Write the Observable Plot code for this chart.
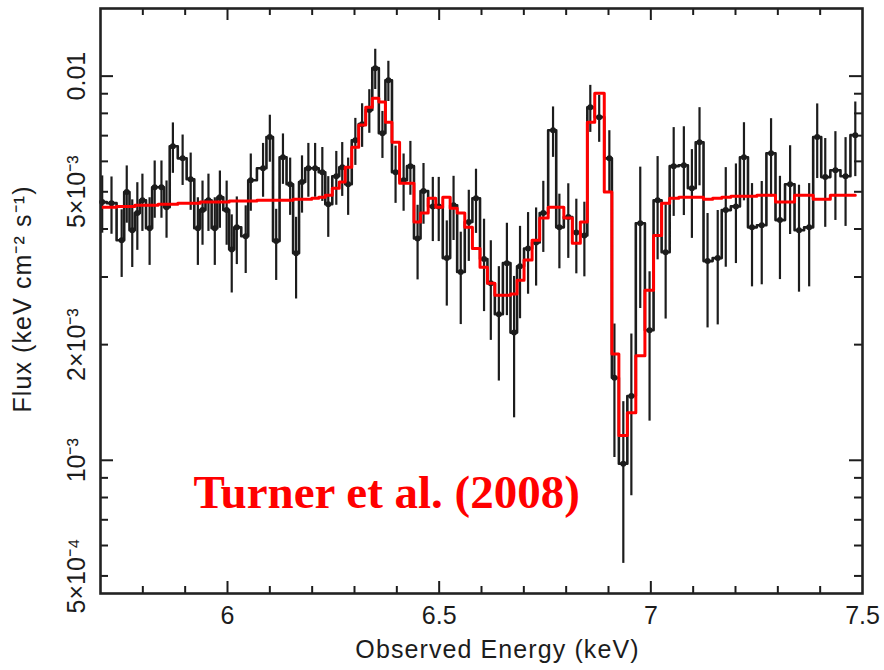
<!DOCTYPE html>
<html><head><meta charset="utf-8">
<script src="https://cdn.jsdelivr.net/npm/d3@7"></script>
<script src="https://cdn.jsdelivr.net/npm/@observablehq/plot@0.6"></script>
<style>
body{margin:0;background:#fff;}
#chart{position:relative;width:884px;height:670px;}
</style></head><body><div id="chart"></div>
<script>
// Observed energy of each spectral bin (keV)
const energy = [5.704,5.726,5.750,5.762,5.775,5.787,5.799,5.816,5.828,5.844,5.856,5.871,5.894,5.913,5.930,5.941,5.955,5.970,5.982,5.998,
6.010,6.022,6.043,6.055,6.084,6.100,6.115,6.131,6.148,6.162,6.176,6.191,6.207,6.224,6.238,6.257,6.271,6.285,6.302,6.318,
6.335,6.349,6.366,6.380,6.397,6.416,6.432,6.449,6.463,6.485,6.499,6.518,6.534,6.551,6.570,6.587,6.606,6.622,6.641,6.660,
6.677,6.691,6.710,6.729,6.746,6.769,6.784,6.805,6.824,6.843,6.857,6.878,6.902,6.914,6.935,6.954,6.975,6.997,7.016,7.035,
7.054,7.078,7.097,7.115,7.134,7.158,7.177,7.201,7.220,7.239,7.262,7.284,7.305,7.329,7.350,7.374,7.393,7.412,7.436,7.460,7.483];
// Observed flux (units of 1e-3 keV cm^-2 s^-1)
const flux = [4.70,4.67,3.74,4.99,3.97,4.40,4.75,4.02,5.14,5.14,4.56,6.57,6.11,5.39,4.02,4.48,4.75,4.02,4.84,4.48,
3.54,4.04,3.83,5.36,5.76,6.94,3.72,6.15,5.23,3.46,5.30,5.76,5.76,5.62,4.64,5.49,5.79,5.23,6.81,7.50,
8.16,10.49,7.10,9.76,5.62,5.36,5.83,3.78,5.02,4.58,4.58,3.36,4.61,3.09,4.17,4.81,3.34,2.89,2.40,3.26,
2.15,3.20,3.56,3.69,4.40,7.23,4.04,4.30,3.92,3.85,8.30,7.82,6.11,1.64,0.98,1.47,4.14,2.18,4.75,3.48,
5.83,5.86,5.11,6.73,3.30,3.36,4.48,4.58,6.15,4.04,4.09,6.30,4.22,5.23,3.97,4.04,6.94,5.46,5.69,5.49,7.02];
// Fractional 1-sigma error of each flux point
const fluxErr = [.17,.17,.2,.17,.2,.2,.17,.2,.17,.17,.17,.15,.15,.17,.2,.19,.17,.2,.17,.19,
.23,.2,.2,.17,.16,.14,.21,.15,.17,.24,.17,.16,.16,.16,.18,.16,.16,.17,.14,.13,
.13,.12,.14,.12,.17,.17,.16,.22,.18,.19,.19,.25,.19,.27,.21,.19,.27,.29,.33,.27,
.4,.27,.24,.23,.21,.15,.22,.22,.22,.22,.14,.14,.18,.38,.45,.45,.4,.42,.3,.33,
.26,.26,.26,.23,.33,.33,.29,.29,.23,.3,.3,.23,.3,.26,.31,.3,.22,.26,.26,.26,.22];
// Folded best-fit model in each bin (same units)
const model = [4.56,4.56,4.58,4.58,4.58,4.61,4.61,4.61,4.61,4.64,4.64,4.64,4.67,4.67,4.67,4.70,4.70,4.70,4.70,4.70,
4.73,4.73,4.73,4.73,4.75,4.75,4.75,4.75,4.75,4.78,4.78,4.78,4.81,4.84,4.90,5.11,5.30,5.79,6.53,7.46,
8.30,8.76,8.56,7.59,6.73,5.26,5.26,4.17,4.40,4.81,4.56,4.84,4.53,4.40,4.04,3.56,3.18,2.89,2.69,2.69,
2.71,2.94,3.32,3.74,4.27,4.56,4.56,4.27,3.67,4.17,7.59,9.03,4.99,1.89,1.16,1.33,1.87,2.77,3.85,4.67,
4.81,4.84,4.84,4.84,4.78,4.81,4.84,4.87,4.87,4.87,4.90,4.90,4.70,4.70,4.90,4.90,4.78,4.78,4.90,4.90,4.90];

const xTickValues = [6, 6.5, 7, 7.5];
const xTickLabels = ["6", "6.5", "7", "7.5"];
const yTickValues = [0.5, 1, 2, 5, 10];
const yTickLabels = ["5×10⁻⁴", "10⁻³", "2×10⁻³", "5×10⁻³", "0.01"];
const xMinorTicks = [5.8,5.9,6.1,6.2,6.3,6.4,6.6,6.7,6.8,6.9,7.1,7.2,7.3,7.4];
const xMajorTicks = [6, 6.5, 7];
const yMinorTicks = [0.5,0.6,0.7,0.8,0.9,2,3,4,5,6,7,8,9];
const yMajorTicks = [1, 10];

const rows = energy.map((e, i) => ({
  e, f: flux[i], lo: flux[i] * (1 - fluxErr[i]), hi: flux[i] * (1 + fluxErr[i]), m: model[i]
}));
const xLab = new Map(xTickValues.map((v, i) => [v, xTickLabels[i]]));
const yLab = new Map(yTickValues.map((v, i) => [v, yTickLabels[i]]));

const W = 884, H = 670, mL = 100, mR = 22, mT = 8, mB = 77;
const iW = W - mL - mR, iH = H - mT - mB;
const ink = "#1c1c1c";

const chart = Plot.plot({
  width: W, height: H,
  marginLeft: mL, marginRight: mR, marginTop: mT, marginBottom: mB,
  style: {fontFamily: "Liberation Sans, Arial, sans-serif", background: "#fff", color: ink},
  x: {domain: [5.7, 7.5], axis: null},
  y: {type: "log", domain: [0.45, 15.0], axis: null},
  marks: [
    // inward tick marks on all four sides
    Plot.ruleX(xMinorTicks, {x: d => d, insetTop: iH - 7, stroke: ink, strokeWidth: 2}),
    Plot.ruleX(xMinorTicks, {x: d => d, insetBottom: iH - 7, stroke: ink, strokeWidth: 2}),
    Plot.ruleX(xMajorTicks, {x: d => d, insetTop: iH - 12, stroke: ink, strokeWidth: 2}),
    Plot.ruleX(xMajorTicks, {x: d => d, insetBottom: iH - 12, stroke: ink, strokeWidth: 2}),
    Plot.ruleY(yMinorTicks, {y: d => d, insetRight: iW - 8, stroke: ink, strokeWidth: 2}),
    Plot.ruleY(yMinorTicks, {y: d => d, insetLeft: iW - 8, stroke: ink, strokeWidth: 2}),
    Plot.ruleY(yMajorTicks, {y: d => d, insetRight: iW - 13, stroke: ink, strokeWidth: 2}),
    Plot.ruleY(yMajorTicks, {y: d => d, insetLeft: iW - 13, stroke: ink, strokeWidth: 2}),
    // data: error bars, histogram steps, points
    Plot.ruleX(rows, {x: "e", y1: "lo", y2: "hi", stroke: ink, strokeWidth: 2.2}),
    Plot.line(rows, {x: "e", y: "f", curve: "step", stroke: ink, strokeWidth: 2.6}),
    Plot.dot(rows, {x: "e", y: "f", r: 3, fill: ink}),
    // model
    Plot.line(rows, {x: "e", y: "m", curve: "step", stroke: "#ff0000", strokeWidth: 3}),
    Plot.frame({stroke: "#222", strokeWidth: 2.6}),
    // axes text
    Plot.axisX(xTickValues, {tickSize: 0, tickPadding: 13, fontSize: 25, tickFormat: d => xLab.get(d), label: null}),
    Plot.axisY(yTickValues, {tickSize: 0, tickPadding: 16, tickRotate: -90, fontSize: 25, tickFormat: d => yLab.get(d), label: null}),
    Plot.text(["Observed Energy (keV)"], {frameAnchor: "bottom", textAnchor: "middle", lineAnchor: "middle", dx: 16, dy: 56, fontSize: 25, fill: ink}),
    Plot.text(["Flux (keV cm⁻² s⁻¹)"], {frameAnchor: "left", textAnchor: "middle", lineAnchor: "middle", rotate: -90, dx: -78, dy: -2, fontSize: 25, fill: ink}),
    Plot.text(["Turner et al. (2008)"], {frameAnchor: "top-left", dx: 93, dy: 499, textAnchor: "start", lineAnchor: "bottom",
      fill: "#ff0000", fontFamily: "Liberation Serif, Times New Roman, serif", fontWeight: "bold", fontSize: 47})
  ]
});
d3.select(chart).selectAll("text").filter(function() {
  const t = this.textContent;
  return t.startsWith("Observed") || t.startsWith("Flux");
}).attr("letter-spacing", "1.1px");
document.getElementById("chart").appendChild(chart);
</script></body></html>
